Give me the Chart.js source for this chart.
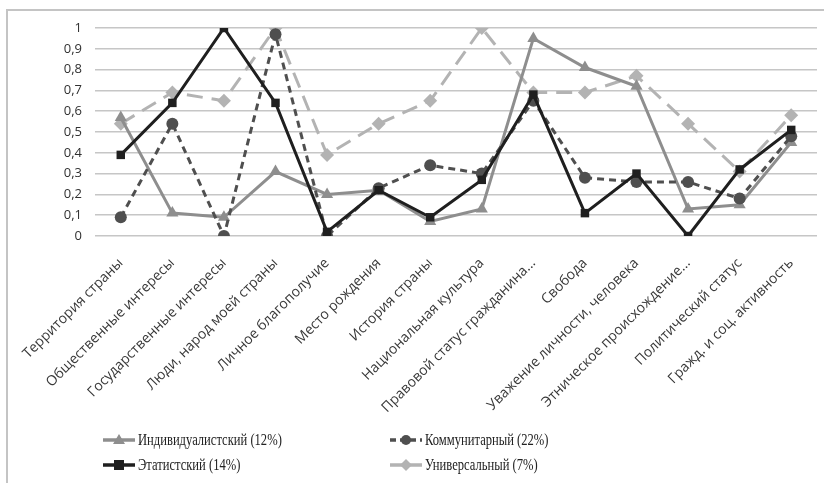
<!DOCTYPE html>
<html><head><meta charset="utf-8">
<script src="https://cdn.jsdelivr.net/npm/chart.js@4"></script>
<style>
html,body{margin:0;padding:0;background:#fff;width:824px;height:483px;overflow:hidden;}
#frame{position:absolute;left:6px;top:9px;width:900px;height:600px;border-left:2px solid #c4c4c4;border-top:2px solid #c4c4c4;}
#wrap{position:absolute;left:0;top:0;width:824px;height:483px;}
#legend{position:absolute;left:0;top:0;width:824px;height:483px;pointer-events:none;font-family:"Liberation Serif","Times New Roman",serif;font-size:17px;color:#222;}
.li{position:absolute;display:flex;align-items:center;white-space:nowrap;}
.li svg{margin-right:2px;flex:none;}
.li span{display:inline-block;transform:scaleX(0.74);transform-origin:0 50%;}
</style></head><body>
<div id="frame"></div>
<div id="wrap"><canvas id="c" width="824" height="483"></canvas></div>
<div id="legend"></div>
<script>
const categories = [
  "Территория страны","Общественные интересы","Государственные интересы","Люди, народ моей страны",
  "Личное благополучие","Место рождения","История страны","Национальная культура",
  "Правовой статус гражданина...","Свобода","Уважение личности, человека","Этническое происхождение...",
  "Политический статус","Гражд. и соц. активность"
];
const seriesNames = ["Индивидуалистский (12%)","Коммунитарный (22%)","Этатистский (14%)","Универсальный (7%)"];
const individualistic = [0.57,0.11,0.09,0.31,0.20,0.22,0.07,0.13,0.95,0.81,0.72,0.13,0.15,0.45];
const communitarian   = [0.09,0.54,0.00,0.97,0.00,0.23,0.34,0.30,0.65,0.28,0.26,0.26,0.18,0.48];
const etatist         = [0.39,0.64,1.00,0.64,0.02,0.22,0.09,0.27,0.68,0.11,0.30,0.00,0.32,0.51];
const universal       = [0.54,0.69,0.65,1.00,0.39,0.54,0.65,1.00,0.69,0.69,0.77,0.54,0.31,0.58];
const yTickLabels = ["0","0,1","0,2","0,3","0,4","0,5","0,6","0,7","0,8","0,9","1"];

const styles = [
  {color:"#8e8e8e", dash:[], point:"triangle", r:7},
  {color:"#4f4f4f", dash:[7,5], point:"circle", r:6},
  {color:"#1f1f1f", dash:[], point:"rect", r:6},
  {color:"#b3b3b3", dash:[16,9], point:"rectRot", r:7}
];
const values = [individualistic, communitarian, etatist, universal];
const order = [3,0,1,2]; // draw order (back to front)

const datasets = values.map((v,i)=>({
  label: seriesNames[i],
  data: v,
  borderColor: styles[i].color,
  backgroundColor: styles[i].color,
  borderWidth: 3,
  borderDash: styles[i].dash,
  pointStyle: styles[i].point,
  pointRadius: styles[i].r,
  pointBorderWidth: 0,
  pointBackgroundColor: styles[i].color,
  tension: 0,
  order: 10 - order.indexOf(i)
}));

new Chart(document.getElementById('c'), {
  type: 'line',
  data: { labels: categories, datasets },
  options: {
    responsive: false,
    animation: false,
    devicePixelRatio: 1,
    layout: { padding: { left: 0, right: 7, top: 28, bottom: 0 } },
    plugins: { legend: { display: false }, tooltip: { enabled: false } },
    scales: {
      x: {
        offset: true,
        grid: { display: false },
        border: { display: false },
        ticks: { minRotation: 45, maxRotation: 45, autoSkip: false, padding: 11,
          color: '#383838', font: { family: 'Open Sans', size: 14 } },
        afterFit(s){ s.height = 247; }
      },
      y: {
        min: 0, max: 1,
        grid: { color: '#c6c6c6', lineWidth: 1.5, drawTicks: false },
        border: { display: false },
        ticks: { stepSize: 0.1, padding: 13, color: '#303030', font: { family: 'Open Sans', size: 13 },
          callback: (v, i) => yTickLabels[i] },
        afterFit(s){ s.width = 95; }
      }
    }
  }
});

// HTML legend built from series names/styles
const pos = [[102,440],[389,440],[102,465],[389,465]];
const leg = document.getElementById('legend');
seriesNames.forEach((n,i)=>{
  const s = styles[i];
  const d = document.createElement('div');
  d.className='li';
  d.style.left = pos[i][0]+'px';
  d.style.top = (pos[i][1]-11)+'px';
  let marker='';
  const cx=17, cy=11;
  if(s.point==='triangle') marker=`<polygon points="${cx},${cy-6} ${cx+6},${cy+4} ${cx-6},${cy+4}" fill="${s.color}"/>`;
  else if(s.point==='circle') marker=`<circle cx="${cx}" cy="${cy}" r="5" fill="${s.color}"/>`;
  else if(s.point==='rect') marker=`<rect x="${cx-5}" y="${cy-5}" width="10" height="10" fill="${s.color}"/>`;
  else marker=`<polygon points="${cx},${cy-6} ${cx+6},${cy} ${cx},${cy+6} ${cx-6},${cy}" fill="${s.color}"/>`;
  const dash = s.dash.length ? `stroke-dasharray="${i===1?'6,4':'13,6'}"` : '';
  d.innerHTML = `<svg width="34" height="22"><line x1="1" y1="${cy}" x2="33" y2="${cy}" stroke="${s.color}" stroke-width="3.5" ${dash}/>${marker}</svg><span>${n}</span>`;
  leg.appendChild(d);
});
</script>
</body></html>
